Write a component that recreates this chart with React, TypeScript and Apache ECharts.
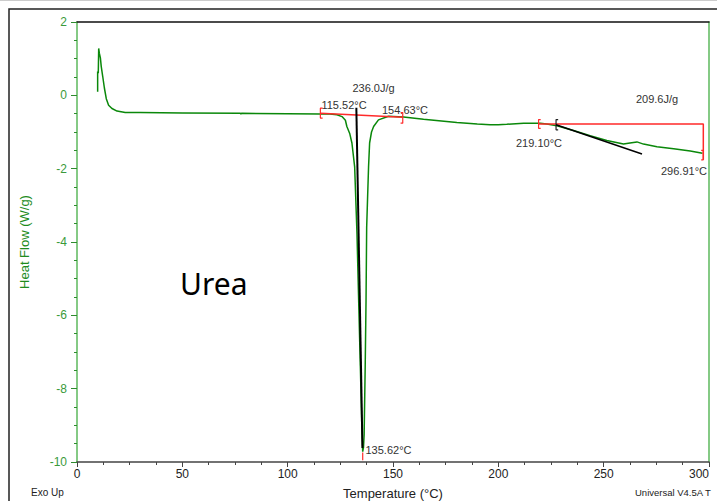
import React, { useEffect, useRef } from "react";
import * as echarts from "echarts";

// Main DSC curve (temperature °C, heat flow W/g)
const tempC = [
  9.8, 9.8, 10.1, 10.3, 10.6, 11.1, 11.5, 12.2, 13.0, 13.9, 15.0, 16.6, 19.0, 22.9, 30, 50, 77.5, 77.8, 78.1,
  100, 115.5, 120, 123.4, 125.8, 127.4, 128.1, 129.5, 130.5, 131.8, 132.9, 133.7, 134.5, 135.3, 135.62,
  136.0, 136.3, 136.8, 137.2, 137.5, 137.9, 138.4, 138.9, 139.8, 140.8, 143.1, 147.9, 155, 164.5, 180.3,
  190, 196.1, 200, 204, 212, 219.9, 223, 227.8, 235.7, 243.6, 251.5, 259.4, 262.5, 265.8, 268.9, 275.3,
  283.2, 291.1, 296.9,
];
const heatFlow = [
  0.1, 0.65, 0.6, 1.28, 1.15, 1.02, 0.79, 0.52, 0.2, -0.09, -0.27, -0.36, -0.43, -0.47, -0.47, -0.48, -0.49, -0.51, -0.49,
  -0.5, -0.51, -0.51, -0.53, -0.58, -0.68, -0.85, -1.05, -1.3, -1.95, -3.77, -5.6, -7.4, -9.25, -9.72,
  -9.6, -9.25, -7.4, -5.6, -3.6, -2.86, -1.95, -1.3, -1.0, -0.85, -0.67, -0.57, -0.59, -0.65, -0.74,
  -0.78, -0.8, -0.8, -0.79, -0.76, -0.76, -0.78, -0.83, -0.96, -1.1, -1.23, -1.33, -1.3, -1.27, -1.33, -1.4,
  -1.46, -1.52, -1.58,
];

// Axis ticks
const xTicks = [0, 50, 100, 150, 200, 250, 300];
const yTicks = [-10, -8, -6, -4, -2, 0, 2];

// Annotation geometry (data coordinates)
const meltBaseline = [[115.52, -0.49], [154.63, -0.6]];
const meltStartBracket = [[116.6, -0.35], [115.52, -0.35], [115.52, -0.62], [116.6, -0.62]];
const meltEndBracket = [[153.6, -0.47], [154.63, -0.47], [154.63, -0.76], [153.6, -0.76]];
const meltPeakLine = [[132.6, -0.34], [135.5, -9.62]];
const meltPeakTick = [[135.62, -9.74], [135.62, -9.95]];
const decompBaseline = [[219.1, -0.78], [297.3, -0.78], [297.3, -1.76]];
const decompStartBracket = [[220.1, -0.66], [219.1, -0.66], [219.1, -0.9], [220.1, -0.9]];
const decompEndBracket = [[296.3, -1.5], [297.3, -1.5], [297.3, -1.76], [296.3, -1.76]];
const decompOnsetBracket = [[228.4, -0.66], [227.4, -0.66], [227.4, -0.94], [228.4, -0.94]];
const decompTangent = [[227.4, -0.8], [268.2, -1.6]];

// Annotation texts
const meltEnthalpy = "236.0J/g";
const meltStart = "115.52°C";
const meltEnd = "154.63°C";
const meltPeak = "135.62°C";
const decompEnthalpy = "209.6J/g";
const decompStart = "219.10°C";
const decompEnd = "296.91°C";

const FONT = "Liberation Sans";
const RED = "#ff2a2a";
const AXIS_GREEN = "#5cb85c";
const LABEL_GREEN = "#3a9a3a";

function seg(name: string, data: number[][], color: string, width: number) {
  return {
    name,
    type: "line",
    data,
    showSymbol: false,
    symbol: "none",
    silent: true,
    z: 3,
    lineStyle: { color, width },
  };
}

export default function App() {
  const ref = useRef<HTMLDivElement>(null);
  useEffect(() => {
    if (!ref.current) return;
    const chart = echarts.init(ref.current, null, { renderer: "svg" });
    const curve = tempC.map((t, i) => [t, heatFlow[i]]);
    const txt = (x: number, y: number, text: string, size = 11, align = "center", color = "#333") => ({
      type: "text",
      x,
      y,
      silent: true,
      style: { text, fill: color, font: `${size}px '${FONT}'`, align, verticalAlign: "middle" },
    });
    chart.setOption({
      animation: false,
      backgroundColor: "#ffffff",
      grid: { left: 77, top: 22, right: 8, bottom: 39, containLabel: false, outerBoundsMode: "none" },
      xAxis: [
        {
          type: "value",
          position: "bottom",
          min: xTicks[0],
          max: xTicks[xTicks.length - 1],
          interval: 50,
          name: "Temperature (°C)",
          nameLocation: "middle",
          nameGap: 25,
          nameTextStyle: { color: "#222", fontSize: 13, fontFamily: FONT },
          axisLine: { onZero: false, lineStyle: { color: "#444", width: 1.5 } },
          axisTick: { show: true, length: 5, lineStyle: { color: "#444" } },
          minorTick: { show: true, splitNumber: 4, length: 3, lineStyle: { color: "#444" } },
          splitLine: { show: false },
          axisLabel: { color: "#222", fontSize: 12, margin: 6, fontFamily: FONT, alignMaxLabel: "right" },
        },
        {
          type: "value",
          position: "top",
          min: 0,
          max: 300,
          axisLine: { show: true, onZero: false, lineStyle: { color: "#111", width: 1.5 } },
          axisTick: { show: false },
          axisLabel: { show: false },
          splitLine: { show: false },
        },
      ],
      yAxis: [
        {
          type: "value",
          position: "left",
          min: yTicks[0],
          max: yTicks[yTicks.length - 1],
          interval: 2,
          name: "Heat Flow (W/g)",
          nameLocation: "middle",
          nameGap: 46,
          nameTextStyle: { color: "#1e8c1e", fontSize: 13, fontFamily: FONT },
          axisLine: { show: true, onZero: false, lineStyle: { color: AXIS_GREEN, width: 1.5 } },
          axisTick: { show: true, length: 6, lineStyle: { color: "#2e8b2e" } },
          minorTick: { show: true, splitNumber: 4, length: 3, lineStyle: { color: "#2e8b2e" } },
          splitLine: { show: false },
          axisLabel: { color: LABEL_GREEN, fontSize: 12, margin: 10, fontFamily: FONT },
        },
        {
          type: "value",
          position: "right",
          min: -10,
          max: 2,
          axisLine: { show: true, onZero: false, lineStyle: { color: AXIS_GREEN, width: 1.5 } },
          axisTick: { show: false },
          axisLabel: { show: false },
          splitLine: { show: false },
        },
      ],
      series: [
        {
          name: "Heat Flow",
          type: "line",
          data: curve,
          showSymbol: false,
          symbol: "none",
          z: 2,
          lineStyle: { color: "#0a880a", width: 1.5 },
        },
        seg("meltBaseline", meltBaseline, RED, 1.5),
        seg("meltStartBracket", meltStartBracket, RED, 1.2),
        seg("meltEndBracket", meltEndBracket, RED, 1.2),
        seg("meltPeakLine", meltPeakLine, "#000", 2),
        seg("meltPeakTick", meltPeakTick, RED, 1.2),
        seg("decompBaseline", decompBaseline, RED, 1.5),
        seg("decompStartBracket", decompStartBracket, RED, 1.2),
        seg("decompEndBracket", decompEndBracket, RED, 1.2),
        seg("decompOnsetBracket", decompOnsetBracket, "#222", 1.2),
        seg("decompTangent", decompTangent, "#000", 1.5),
      ],
      graphic: [
        { type: "line", silent: true, shape: { x1: 0, y1: 0.5, x2: 717, y2: 0.5 }, style: { stroke: "#cccccc", lineWidth: 1 } },
        { type: "rect", silent: true, shape: { x: 9, y: 9, width: 800, height: 600 }, style: { fill: "none", stroke: "#222", lineWidth: 1.5 } },
        txt(373.5, 88, meltEnthalpy),
        txt(344, 105, meltStart),
        txt(405, 110, meltEnd),
        txt(388.5, 449.5, meltPeak),
        txt(657, 99, decompEnthalpy),
        txt(539, 142.5, decompStart),
        txt(684, 170.5, decompEnd),
        {
          type: "text",
          x: 180,
          y: 283,
          silent: true,
          style: { text: "Urea", fill: "#000", font: "30px 'Noto Sans'", align: "left", verticalAlign: "middle" },
        },
        txt(31, 492.5, "Exo Up", 10, "left", "#222"),
        txt(635, 492.5, "Universal V4.5A T", 9.5, "left", "#222"),
      ],
    });
    return () => chart.dispose();
  }, []);
  return (
    <div
      ref={ref}
      style={{ position: "fixed", left: 0, top: 0, width: 717, height: 501, background: "#fff" }}
    />
  );
}
